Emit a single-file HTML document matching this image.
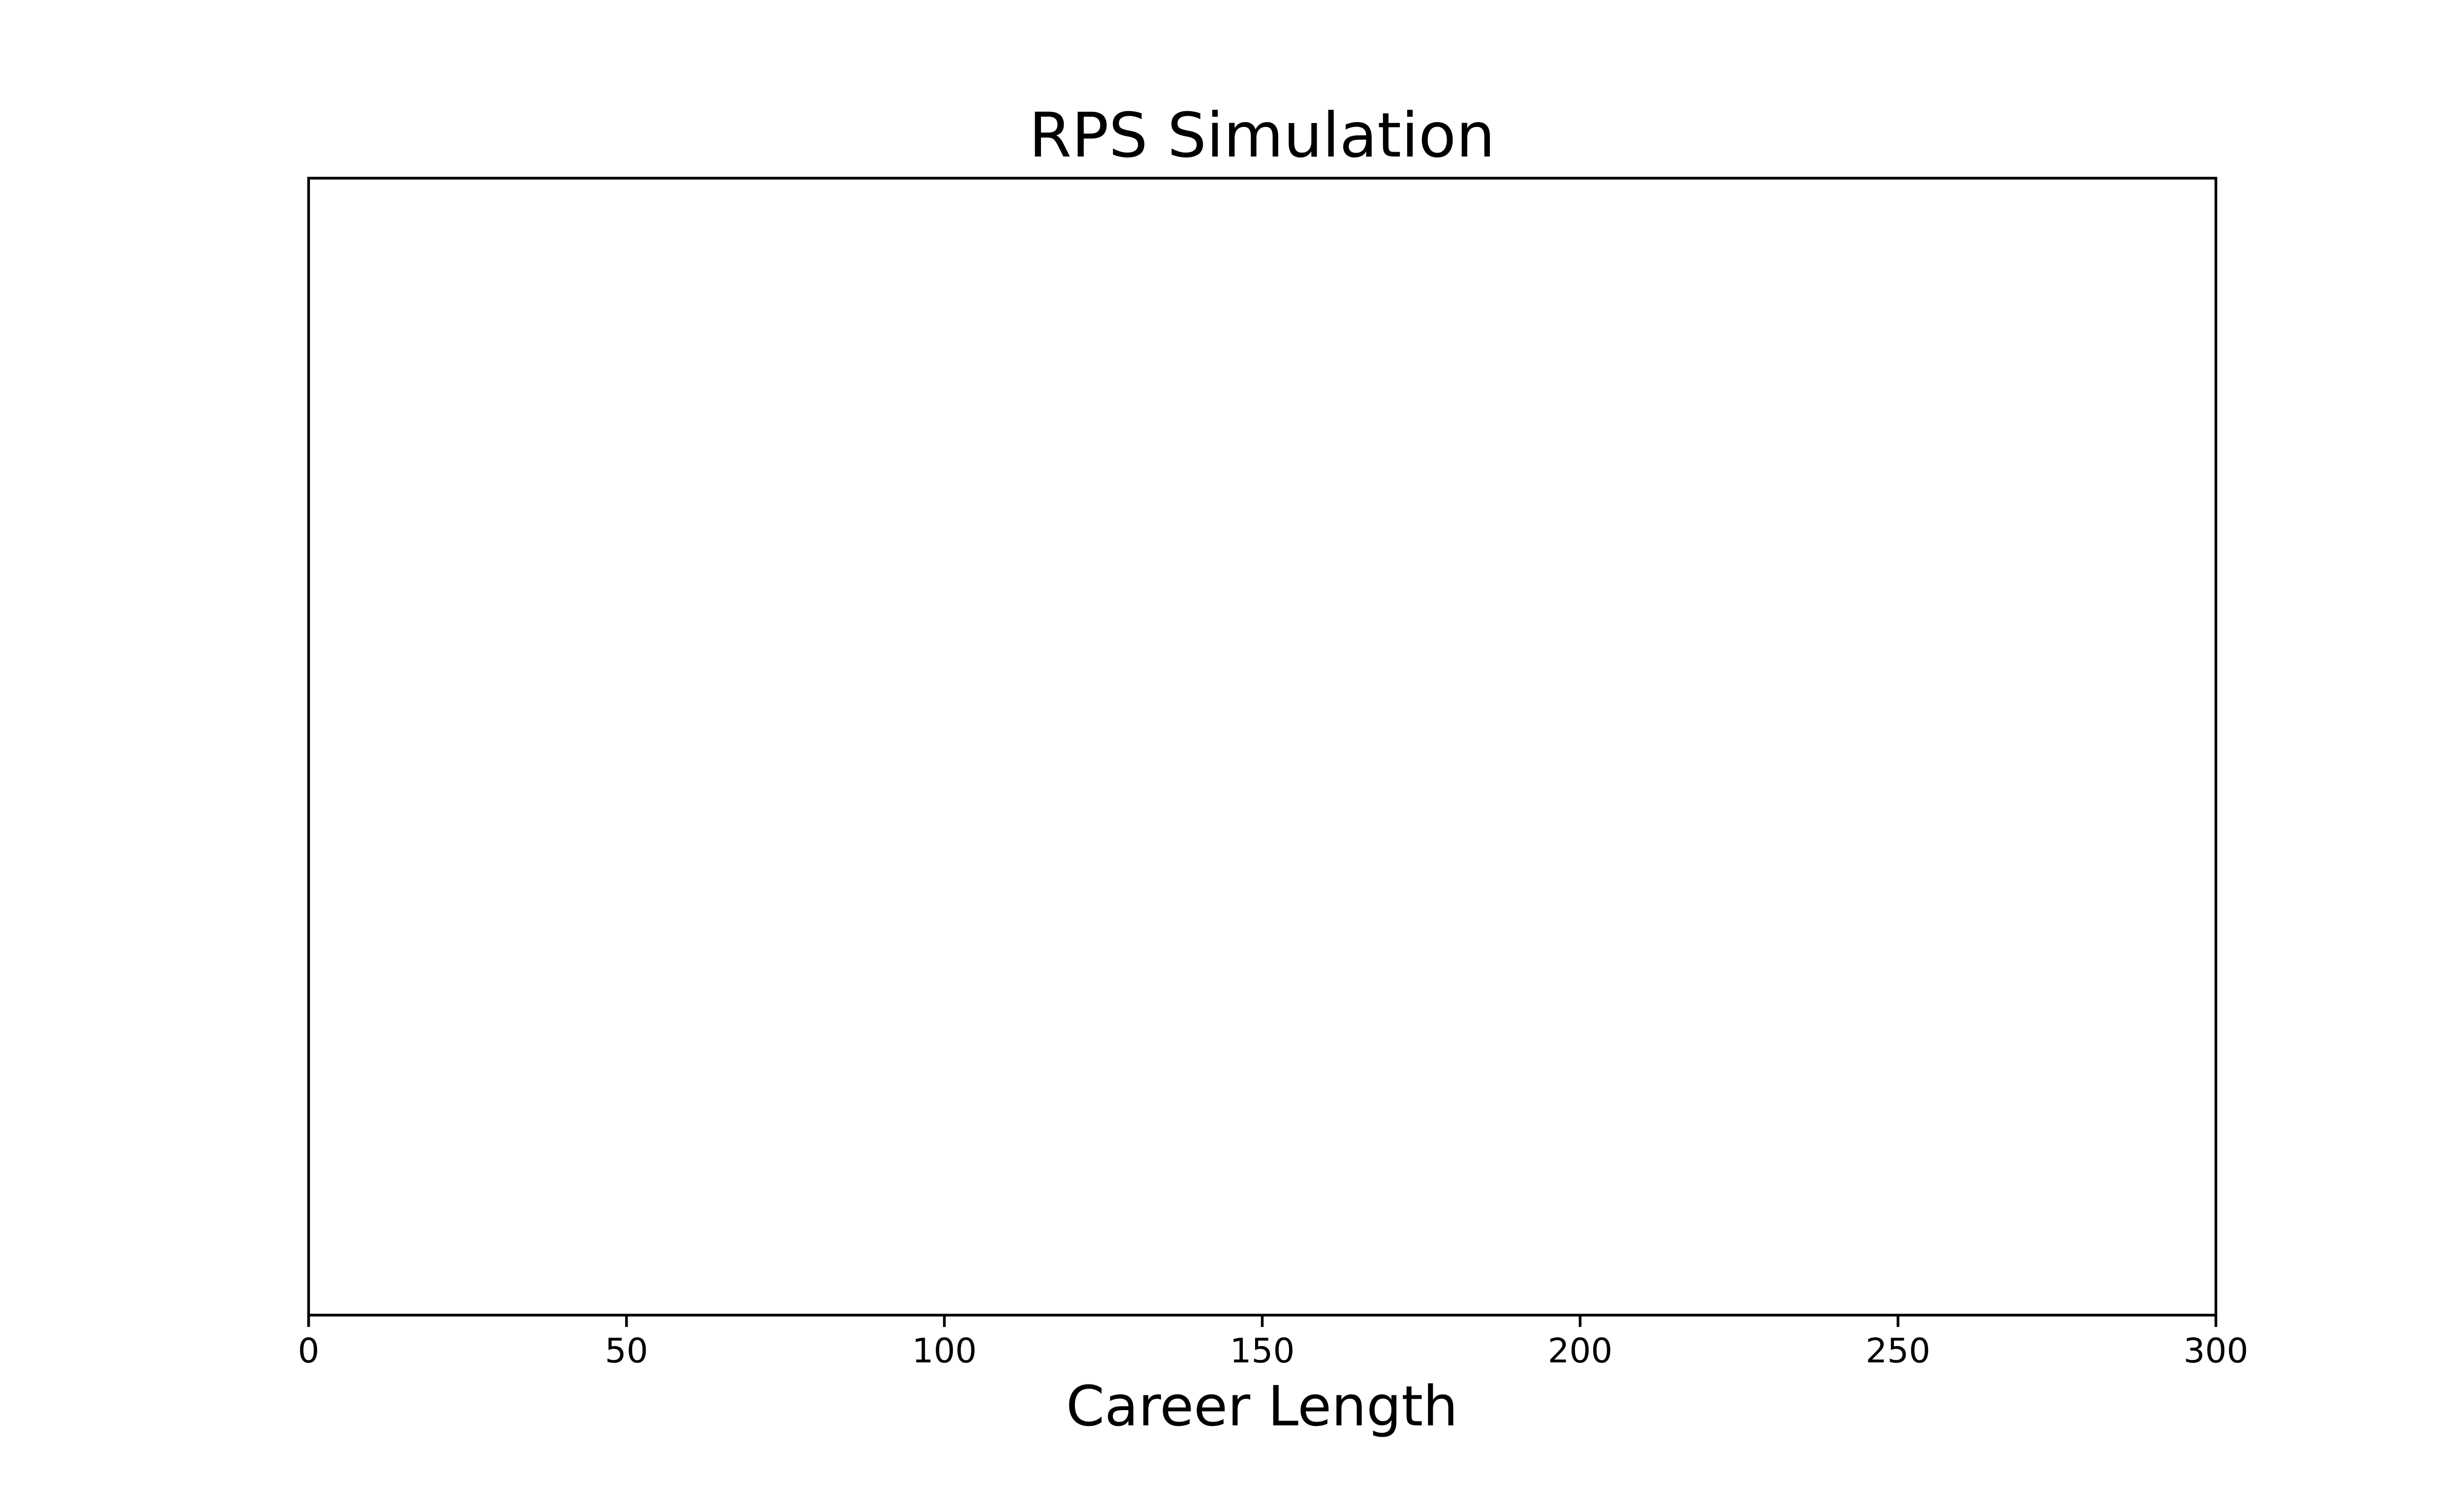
<!DOCTYPE html>
<html><head><meta charset="utf-8"><style>
html,body{margin:0;padding:0;background:#fff;}
svg{display:block;}
text{font-family:"DejaVu Sans","Liberation Sans",sans-serif;fill:#000;}
</style></head><body>
<svg id="chart" width="5120" height="3072" viewBox="0 0 5120 3072" xmlns="http://www.w3.org/2000/svg">
<rect x="0" y="0" width="5120" height="3072" fill="#fff"/>
<text x="2564" y="318" font-size="125" text-anchor="middle">RPS Simulation</text>
<rect x="627" y="362" width="3875" height="2310" fill="none" stroke="#000" stroke-width="5.5"/>
<g id="xticks"></g>
<text x="2564" y="2896" font-size="112" text-anchor="middle">Career Length</text>
</svg>
<script>
const xTickValues = [0, 50, 100, 150, 200, 250, 300];
const xTickLabels = ["0", "50", "100", "150", "200", "250", "300"];
const xDomain = [0, 300];
const plotLeft = 627, plotRight = 4502, plotBottom = 2672;
function xScale(v){ return plotLeft + (v - xDomain[0]) / (xDomain[1] - xDomain[0]) * (plotRight - plotLeft); }
const g = document.getElementById('xticks');
const NS = 'http://www.w3.org/2000/svg';
xTickValues.forEach((v, i) => {
  const x = xScale(v);
  const ln = document.createElementNS(NS, 'line');
  ln.setAttribute('x1', x); ln.setAttribute('x2', x);
  ln.setAttribute('y1', plotBottom); ln.setAttribute('y2', plotBottom + 24);
  ln.setAttribute('stroke', '#000'); ln.setAttribute('stroke-width', '5.5');
  
  
  g.appendChild(ln);
  const t = document.createElementNS(NS, 'text');
  t.setAttribute('x', x); t.setAttribute('y', 2768);
  t.setAttribute('font-size', '69'); t.setAttribute('text-anchor', 'middle');
  t.textContent = xTickLabels[i];
  
  
  g.appendChild(t);
});
</script>
</body></html>
